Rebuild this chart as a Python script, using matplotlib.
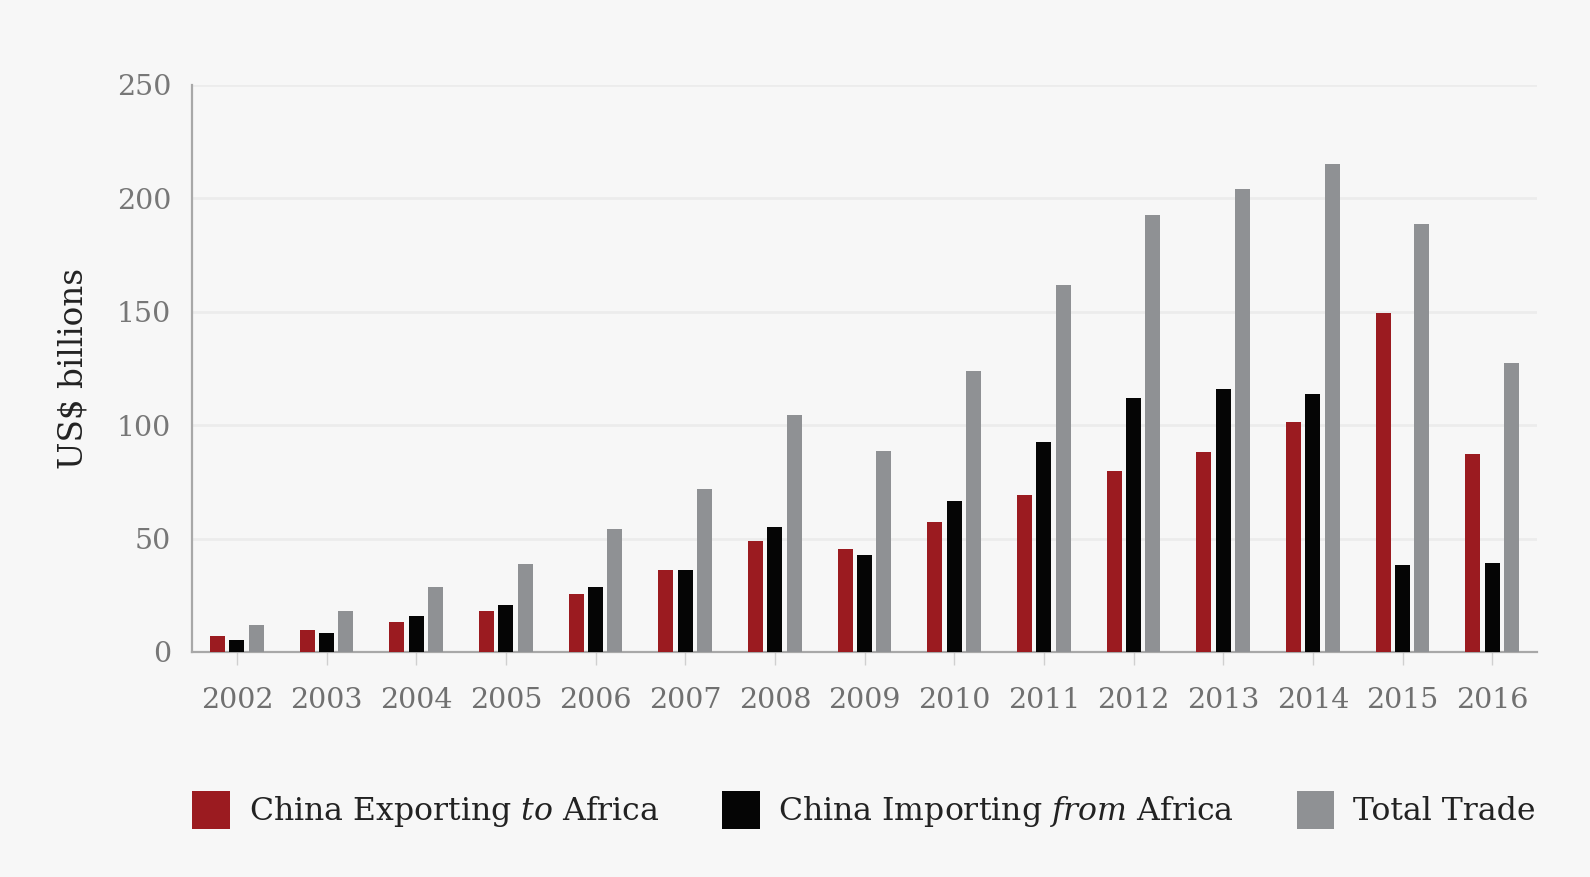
import matplotlib
matplotlib.use("Agg")
import matplotlib.pyplot as plt
import numpy as np
from matplotlib.patches import Patch

years = ["2002", "2003", "2004", "2005", "2006", "2007", "2008", "2009",
         "2010", "2011", "2012", "2013", "2014", "2015", "2016"]
exports = [6.9, 9.9, 13.1, 17.9, 25.7, 36.2, 48.8, 45.6, 57.4, 69.1, 79.7, 88.2, 101.4, 149.6, 87.5]
imports = [5.3, 8.5, 15.7, 20.9, 28.7, 36.2, 55.1, 42.9, 66.5, 92.4, 112.2, 115.8, 113.6, 38.2, 39.4]
total = [11.9, 18.2, 28.7, 38.8, 54.3, 72.0, 104.4, 88.5, 124.0, 162.0, 192.7, 204.3, 215.3, 188.6, 127.4]
yticks = [0, 50, 100, 150, 200, 250]
labels = ["China Exporting $\\it{to}$ Africa", "China Importing $\\it{from}$ Africa", "Total Trade"]

RED = "#9b1b20"
BLACK = "#050505"
GRAY = "#8f9194"
BG = "#f7f7f7"

plt.rcParams["font.family"] = ["DejaVu Serif"]
plt.rcParams["mathtext.fontset"] = "custom"
plt.rcParams["mathtext.rm"] = "DejaVu Serif"
plt.rcParams["mathtext.it"] = "DejaVu Serif:italic"

fig = plt.figure(figsize=(15.9, 8.77), dpi=100, facecolor=BG)
ax = fig.add_axes([192/1590, 1-652/877, (1537-192)/1590, (652-85)/877])
ax.set_facecolor(BG)

x = np.arange(len(years))
off = 0.215
w = 0.165
ax.bar(x - off, exports, width=w, color=RED, zorder=3)
ax.bar(x, imports, width=w, color=BLACK, zorder=3)
ax.bar(x + off, total, width=w, color=GRAY, zorder=3)

ax.set_xlim(-0.5, len(years) - 0.5)
ax.set_ylim(0, 250)
ax.set_yticks(yticks)
ax.set_yticklabels([str(t) for t in yticks])
ax.set_xticks(x)
ax.set_xticklabels(years)

ax.grid(axis="y", color="#ececec", linewidth=2, zorder=0)
for s in ["top", "right"]:
    ax.spines[s].set_visible(False)
for s in ["left", "bottom"]:
    ax.spines[s].set_color("#a8a8a8")
    ax.spines[s].set_linewidth(1.6)

ax.tick_params(axis="y", length=0, pad=15, labelsize=20.5, labelcolor="#777777")
ax.tick_params(axis="x", length=9, width=1, color="#d0d0d0", pad=16,
               labelsize=20.5, labelcolor="#707070")

ax.set_ylabel("US$ billions", fontsize=23.5, color="#222222", labelpad=20)

handles = [Patch(facecolor=RED), Patch(facecolor=BLACK), Patch(facecolor=GRAY)]
fig.legend(handles, labels, loc="center left", bbox_to_anchor=(164/1590, 1-810/877),
           ncol=3, frameon=False, fontsize=22.7, handlelength=1.2, handleheight=1.5,
           handletextpad=0.6, columnspacing=1.97, labelcolor="#222222")

fig.savefig("out.png", dpi=100, facecolor=BG)
